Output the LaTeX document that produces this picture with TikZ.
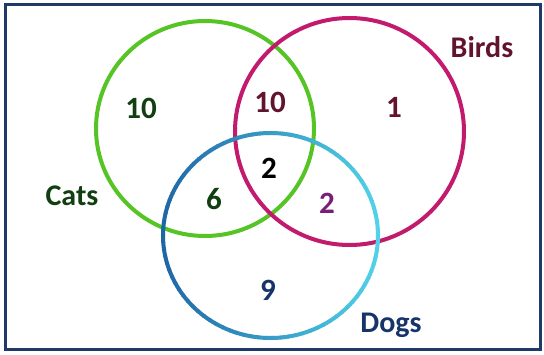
\documentclass[tikz,border=0pt]{standalone}
\usepackage{fontspec}
\setmainfont{Carlito}
\definecolor{frameblue}{HTML}{1F3A68}
\definecolor{catgreen}{HTML}{55C424}
\definecolor{birdpink}{HTML}{C21A6C}
\definecolor{dogdark}{HTML}{1E67A6}
\definecolor{doglight}{HTML}{52D2E8}
\definecolor{txtgreen}{HTML}{123F12}
\definecolor{txtmaroon}{HTML}{62142F}
\definecolor{txtpurple}{HTML}{7A1F78}
\definecolor{txtnavy}{HTML}{16346A}
\tikzset{
  setline/.style={line width=4pt},
  num/.style={font=\bfseries\fontsize{31}{37}\selectfont, anchor=base, inner sep=0pt},
  lbl/.style={font=\bfseries\fontsize{30}{36}\selectfont, anchor=base, inner sep=0pt},
}
\begin{document}
\begin{tikzpicture}[x=1pt,y=-1pt]
\useasboundingbox (0,0) rectangle (544,354);
\fill[white] (0,0) rectangle (544,354);
\draw[frameblue, line width=3pt] (5,4.5) rectangle (540.5,349);
% Cats
\draw[setline, catgreen] (205,128.5) ellipse [x radius=109, y radius=107.5];
% Birds
\draw[setline, birdpink] (349.5,131.5) ellipse [x radius=114.5, y radius=113.5];
% Dogs (gradient)
\foreach \a in {0,4,...,356}{
  \pgfmathsetmacro{\p}{round(50*(1-cos(\a+2)))}
  \draw[setline, color=dogdark!\p!doglight] (270.5,235.5) ++(\a:107.5 and 102.5)
     arc [start angle=\a, end angle=\a+4.6, x radius=107.5, y radius=102.5];
}
\node[num, text=txtgreen] (c) at (141,118) {10};
\node[num, text=txtmaroon] (cb) at (270,112) {10};
\node[num, text=txtmaroon] (b) at (394,117) {1};
\node[num, text=black] (cbd) at (269,178) {2};
\node[num, text=txtgreen] (cd) at (214,209) {6};
\node[num, text=txtpurple] (bd) at (327,213) {2};
\node[num, text=txtnavy] (d) at (268,300) {9};
\node[lbl, text=txtmaroon] (birds) at (482,57) {Birds};
\node[lbl, text=txtgreen] (cats) at (72,205) {Cats};
\node[lbl, text=txtnavy] (dogs) at (391,332) {Dogs};
\end{tikzpicture}
\end{document}
